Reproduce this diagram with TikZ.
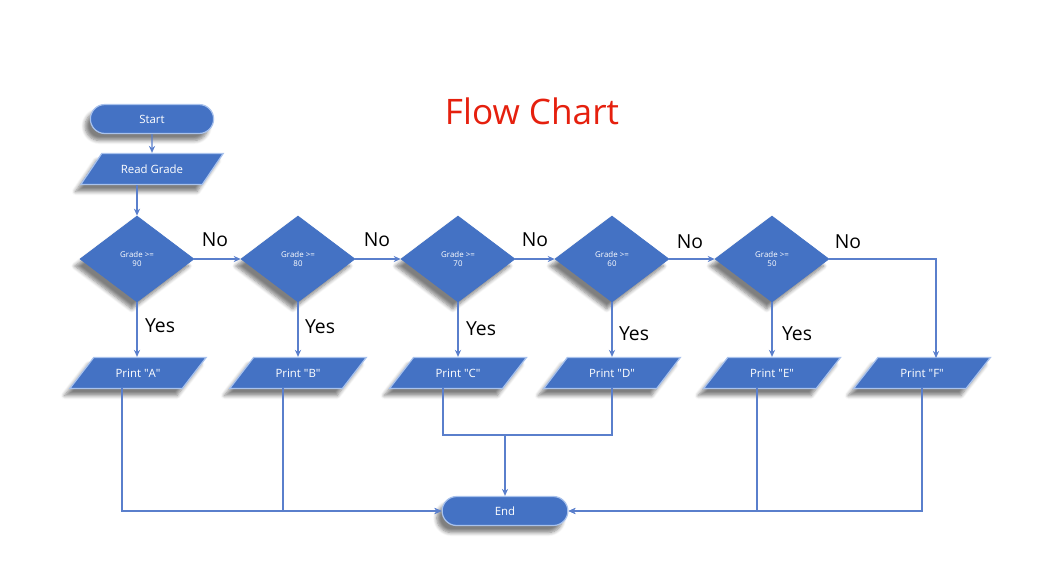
\documentclass[tikz,border=0pt]{standalone}
\usepackage{fontspec}
\setmainfont{Open Sans}
\usetikzlibrary{shapes.geometric,shapes.misc,shadows.blur,arrows.meta,calc}
\definecolor{boxblue}{HTML}{4472C4}
\definecolor{edgeblue}{HTML}{A9C2EC}
\definecolor{lineblue}{HTML}{5A7FCC}
\definecolor{titlered}{HTML}{E5200E}
\newcommand{\qq}{\textquotedbl}
\tikzset{
  shade/.style={blur shadow={shadow xshift=-3pt, shadow yshift=-4pt, shadow blur steps=6, shadow opacity=50}},
  terminal/.style={rounded rectangle, fill=boxblue, draw=edgeblue, line width=0.7pt, shade,
    minimum width=2.46cm, minimum height=0.58cm, text=white, font=\fontsize{6.5}{7}\selectfont},
  inout/.style={trapezium, trapezium left angle=53, trapezium right angle=127, trapezium stretches=true,
    fill=boxblue, draw=edgeblue, line width=0.7pt, shade, minimum width=2.74cm, minimum height=0.62cm,
    text=white, font=\fontsize{6.5}{7}\selectfont},
  decide/.style={diamond, fill=boxblue, draw=boxblue, shade, minimum width=2.28cm, minimum height=1.72cm,
    inner sep=0pt, text=white, align=center, font=\fontsize{4.5}{5.5}\selectfont},
  flow/.style={draw=lineblue, line width=0.8pt, -{Stealth[length=4pt,width=3.5pt]}},
  plain/.style={draw=lineblue, line width=0.8pt},
  answer/.style={font=\fontsize{11}{12}\selectfont}
}
\begin{document}
\begin{tikzpicture}[x=0.02cm, y=-0.02cm]
    \useasboundingbox (0,0) rectangle (1048,565);
    \node[text=titlered, font=\fontsize{20}{22}\selectfont] (title) at (532,111) {Flow Chart};
    % start and input
    \node[terminal, minimum width=2.7cm] (start) at (152,119) {Start};
    \node[inout, minimum width=2.86cm] (read) at (152,169) {Read Grade};
    % decisions
    \node[decide] (d90) at (137,259) {Grade >=\\90};
    \node[decide] (d80) at (298,259) {Grade >=\\80};
    \node[decide] (d70) at (458,259) {Grade >=\\70};
    \node[decide] (d60) at (612,259) {Grade >=\\60};
    \node[decide] (d50) at (772,259) {Grade >=\\50};
    % outputs
    \node[inout] (pA) at (138,373) {Print \qq A\qq};
    \node[inout] (pB) at (298,373) {Print \qq B\qq};
    \node[inout] (pC) at (458,373) {Print \qq C\qq};
    \node[inout] (pD) at (612,373) {Print \qq D\qq};
    \node[inout] (pE) at (772,373) {Print \qq E\qq};
    \node[inout] (pF) at (922,373) {Print \qq F\qq};
    \node[terminal, minimum width=2.75cm] (end) at (505,511) {End};
    % labels
    \node[answer] (no1) at (215,240) {No};
    \node[answer] (no2) at (377,240) {No};
    \node[answer] (no3) at (535,240) {No};
    \node[answer] (no4) at (690,242) {No};
    \node[answer] (no5) at (848,242) {No};
    \node[answer] (yes1) at (160,326) {Yes};
    \node[answer] (yes2) at (320,327) {Yes};
    \node[answer] (yes3) at (481,329) {Yes};
    \node[answer] (yes4) at (634,334) {Yes};
    \node[answer] (yes5) at (797,334) {Yes};
    % free ends
    \coordinate (fin) at (936,358);
    \coordinate (outA) at (122,388);
    \coordinate (outB) at (283,388);
    \coordinate (outC) at (443,388);
    \coordinate (outD) at (612,388);
    \coordinate (outE) at (757,388);
    \coordinate (outF) at (922,388);
    \coordinate (joinCD) at (505,435);
    % connectors
    \draw[flow] (start) -- (read);
    \draw[flow] (d90.north |- read.south) -- (d90.north);
    \draw[flow] (d90.east) -- (d80.west);
    \draw[flow] (d80.east) -- (d70.west);
    \draw[flow] (d70.east) -- (d60.west);
    \draw[flow] (d60.east) -- (d50.west);
    \draw[flow] (d50.east) -| (fin);
    \draw[flow] (d90.south) -- (d90.south |- pA.north);
    \draw[flow] (d80.south) -- (d80.south |- pB.north);
    \draw[flow] (d70.south) -- (d70.south |- pC.north);
    \draw[flow] (d60.south) -- (d60.south |- pD.north);
    \draw[flow] (d50.south) -- (d50.south |- pE.north);
    \draw[flow] (outA) |- (end.west);
    \draw[flow] (outB) |- (end.west);
    \draw[plain] (outC) |- (joinCD) -| (outD);
    \draw[flow] (joinCD) -- (end.north);
    \draw[flow] (outE) |- (end.east);
    \draw[flow] (outF) |- (end.east);
\end{tikzpicture}
\end{document}
